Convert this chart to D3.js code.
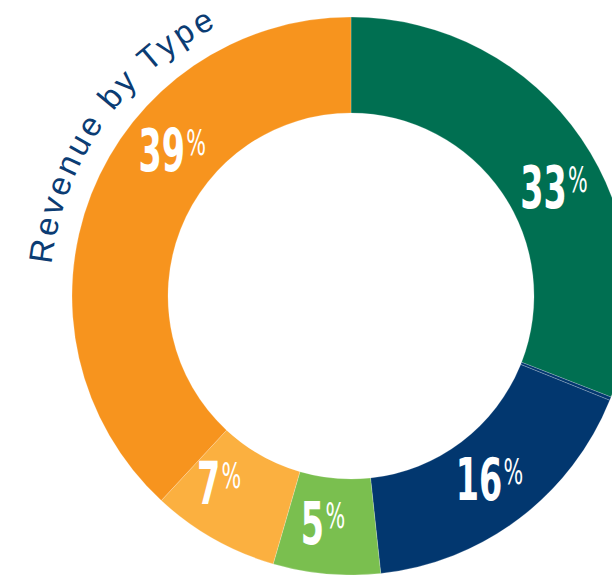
<!DOCTYPE html>
<html>
<head>
<meta charset="utf-8">
<script src="https://cdn.jsdelivr.net/npm/d3@7"></script>
<style>
  body { margin: 0; background: #fff; }
  svg { display: block; }
</style>
</head>
<body>
<svg class="chart" width="612" height="575"></svg>
<script>
// slice shares (angles), labels as printed
var types = ['A', 'A2', 'B', 'C', 'D', 'E'];
var shares = [30.9, 0.2, 17.2, 6.2, 7.4, 38.1];
var labels = ['33', '', '16', '5', '7', '39'];
var colors = ['#006f51', '#02376f', '#02376f', '#7abf4f', '#fbb040', '#f7941e'];
// where each label sits, degrees clockwise from 12 o'clock
var labelAngles = [62, 0, 143, 187, 215, 309];
var title = 'Revenue by Type';

var width = 612, height = 575;
var cx = 351, cy = 296;
var outerR = 279, innerR = 183;

var svg = d3.select('.chart');
var g = svg.append('g').attr('transform', 'translate(' + cx + ',' + cy + ')');

var pie = d3.pie().sort(null).value(function (d) { return d; });
var arc = d3.arc().innerRadius(innerR).outerRadius(outerR);
var arcs = pie(shares);

g.selectAll('path.slice')
    .data(arcs)
    .enter()
    .append('path')
    .attr('class', 'slice')
    .attr('d', arc)
    .style('fill', function (d, i) { return colors[i]; })
    .style('stroke', '#fff')
    .style('stroke-opacity', 0.35)
    .style('stroke-width', 0.6);

// labels
var midR = (innerR + outerR) / 2 - 1;
var lbl = g.selectAll('g.lbl')
    .data(labels)
    .enter()
    .filter(function (d) { return d !== ''; })
    .append('g')
    .attr('class', 'lbl')
    .attr('transform', function (d) {
        var a = labelAngles[labels.indexOf(d)] * Math.PI / 180;
        var x = midR * Math.sin(a);
        var y = -midR * Math.cos(a);
        return 'translate(' + x + ',' + (y + 20) + ') scale(0.64,1)';
    });

var t = lbl.append('text')
    .attr('text-anchor', 'middle')
    .style('fill', '#fff')
    .style('font-family', '"DejaVu Sans Condensed", "Liberation Sans", sans-serif')
    .style('font-weight', 'bold');
t.append('tspan')
    .style('font-size', '58px')
    .text(function (d) { return d; });
t.append('tspan')
    .attr('dy', -16)
    .attr('dx', 2)
    .style('font-size', '36px')
    .style('font-weight', 'normal')
    .text('%');

// curved title outside the ring
var titleR = 301;
var a0 = 276 * Math.PI / 180, a1 = 359 * Math.PI / 180;
var titlePath = d3.path();
titlePath.arc(0, 0, titleR, a0 - Math.PI / 2, a1 - Math.PI / 2, false);
g.append('path')
    .attr('id', 'titleArc')
    .attr('d', titlePath.toString())
    .style('fill', 'none');

g.append('text')
    .style('fill', '#0b3c73')
    .style('font-family', '"Liberation Sans", Arial, sans-serif')
    .style('font-size', '33px')
    .style('letter-spacing', '3.2px')
    .append('textPath')
    .attr('href', '#titleArc')
    .text(title);
</script>
</body>
</html>
